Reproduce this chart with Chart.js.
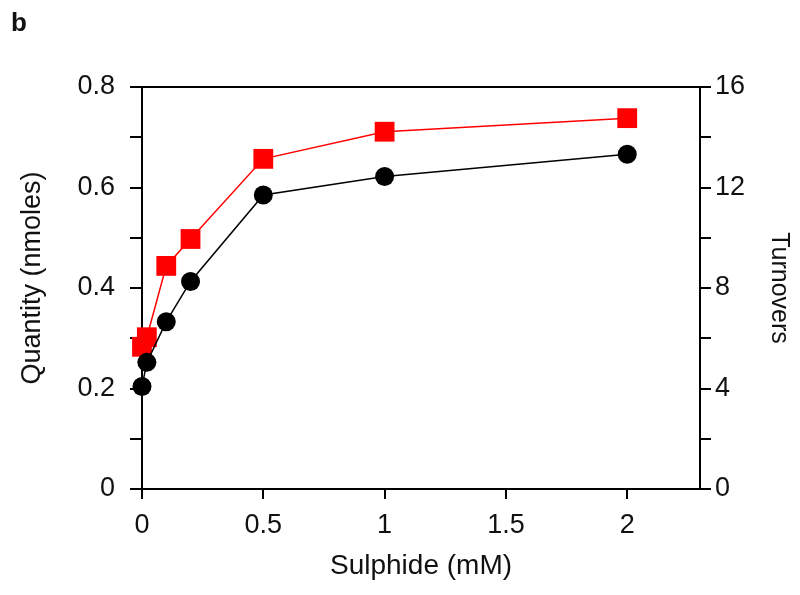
<!DOCTYPE html>
<html>
<head>
<meta charset="utf-8">
<script src="https://cdn.jsdelivr.net/npm/chart.js@4/dist/chart.umd.min.js"></script>
<style>
  html, body { margin: 0; padding: 0; background: #fff; }
  #wrap { width: 800px; height: 595px; }
</style>
</head>
<body>
<div id="wrap"><canvas id="sulphideChart" width="800" height="595"></canvas></div>
<script>
// data
const sulphideMM = [0, 0.02, 0.1, 0.2, 0.5, 1, 2];
const quantityNmoles = [0.204, 0.252, 0.333, 0.413, 0.585, 0.622, 0.666];   // black circles, left axis
const turnovers = [5.66, 6.04, 8.88, 9.95, 13.14, 14.22, 14.76];            // red squares, right axis
const xTitle = 'Sulphide (mM)';
const yLeftTitle = 'Quantity (nmoles)';
const yRightTitle = 'Turnovers';
const panelLabel = 'b';

const fontFamily = '"Liberation Sans", Arial, sans-serif';
const ink = '#111';

function toPoints(xs, ys) {
    return xs.map((x, i) => ({ x: x, y: ys[i] }));
}

// top frame line, panel letter and the left axis title (sits a bit above centre in the original)
const framePlugin = {
    id: 'frame',
    beforeDatasetsDraw(chart) {
        const { ctx, chartArea } = chart;
        ctx.save();
        ctx.strokeStyle = '#000';
        ctx.lineWidth = 2;
        ctx.beginPath();
        ctx.moveTo(chartArea.left, chartArea.top);
        ctx.lineTo(chartArea.right, chartArea.top);
        ctx.stroke();
        ctx.restore();
    },
    afterDraw(chart) {
        const { ctx, chartArea } = chart;
        ctx.save();
        ctx.fillStyle = ink;
        ctx.font = 'bold 26px ' + fontFamily;
        ctx.textBaseline = 'top';
        ctx.fillText(panelLabel, 11, 11);

        ctx.font = '27px ' + fontFamily;
        ctx.textAlign = 'center';
        ctx.textBaseline = 'middle';
        ctx.translate(33, (chartArea.top + chartArea.bottom) / 2 - 10);
        ctx.rotate(-Math.PI / 2);
        ctx.fillText(yLeftTitle, 0, 0);
        ctx.restore();
    }
};

const axisGrid = (len) => ({
    display: true,
    drawOnChartArea: false,
    drawTicks: true,
    tickLength: len,
    color: '#000',
    lineWidth: 2
});
const axisBorder = { display: true, color: '#000', width: 2 };

const ctx = document.getElementById('sulphideChart').getContext('2d');
const sulphideChart = new Chart(ctx, {
    type: 'line',
    data: {
        datasets: [{
            label: yLeftTitle,
            data: toPoints(sulphideMM, quantityNmoles),
            yAxisID: 'y',
            borderColor: '#000',
            borderWidth: 1.5,
            pointStyle: 'circle',
            pointRadius: 9.5,
            pointBackgroundColor: '#000',
            pointBorderWidth: 0,
            clip: false
        }, {
            label: yRightTitle,
            data: toPoints(sulphideMM, turnovers),
            yAxisID: 'y1',
            borderColor: '#ff0000',
            borderWidth: 1.5,
            pointStyle: 'rect',
            pointRadius: 14,
            pointBackgroundColor: '#ff0000',
            pointBorderWidth: 0,
            clip: false
        }]
    },
    options: {
        responsive: false,
        animation: false,
        layout: { padding: { top: 87, left: 0, right: 0, bottom: 0 } },
        plugins: {
            legend: { display: false },
            tooltip: { enabled: false }
        },
        scales: {
            x: {
                type: 'linear',
                position: 'bottom',
                min: 0,
                max: 2.3,
                grid: axisGrid(10),
                border: axisBorder,
                ticks: {
                    stepSize: 0.5,
                    includeBounds: false,
                    color: ink,
                    padding: 10,
                    font: { family: fontFamily, size: 27 },
                    callback: (v) => String(v)
                },
                title: {
                    display: true,
                    text: xTitle,
                    color: ink,
                    font: { family: fontFamily, size: 28 },
                    padding: { top: 0, bottom: 12 }
                },
                afterFit: (scale) => { scale.height = 106; }
            },
            y: {
                type: 'linear',
                position: 'left',
                min: 0,
                max: 0.8,
                grid: axisGrid(12),
                border: axisBorder,
                ticks: {
                    stepSize: 0.1,
                    autoSkip: false,
                    color: ink,
                    padding: 15,
                    font: { family: fontFamily, size: 27 },
                    callback: (v) => {
                        const tenths = Math.round(v * 10);
                        if (tenths % 2 !== 0) return '';
                        return tenths === 0 ? '0' : (tenths / 10).toFixed(1);
                    }
                },
                title: { display: false },
                afterFit: (scale) => { scale.width = 142; }
            },
            y1: {
                type: 'linear',
                position: 'right',
                min: 0,
                max: 16,
                grid: axisGrid(11),
                border: axisBorder,
                ticks: {
                    stepSize: 2,
                    autoSkip: false,
                    color: ink,
                    padding: 4,
                    font: { family: fontFamily, size: 27 },
                    callback: (v) => (v % 4 === 0 ? String(v) : '')
                },
                title: {
                    display: true,
                    text: yRightTitle,
                    color: ink,
                    font: { family: fontFamily, size: 25 },
                    padding: { top: 6, bottom: 0 }
                },
                afterFit: (scale) => { scale.width = 100; }
            }
        }
    },
    plugins: [framePlugin]
});
</script>
</body>
</html>
